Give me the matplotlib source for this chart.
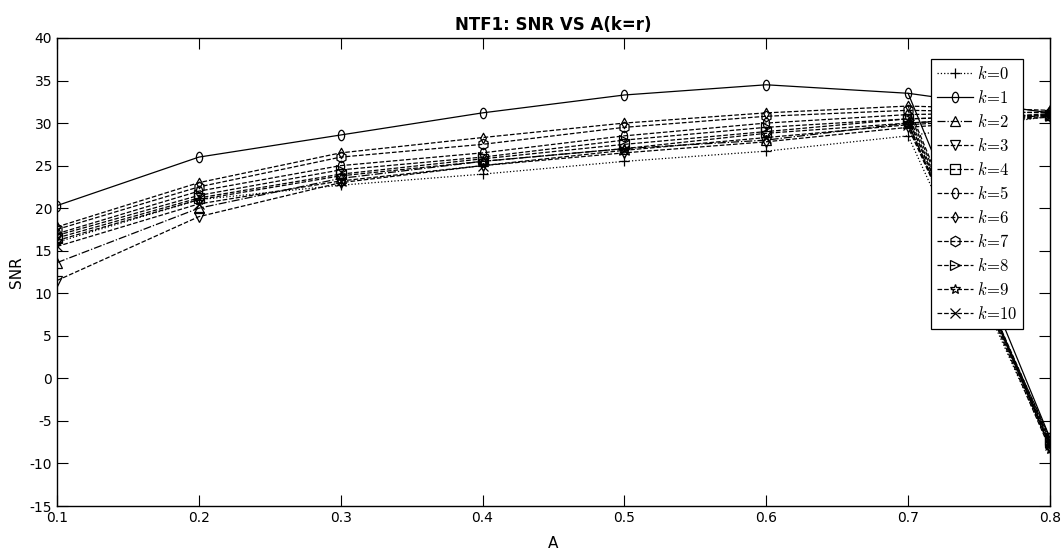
import numpy as np
import matplotlib
matplotlib.use('Agg')
import matplotlib.pyplot as plt
from matplotlib.path import Path
from matplotlib.transforms import Affine2D

A = [0.1, 0.2, 0.3, 0.4, 0.5, 0.6, 0.7, 0.8]

# SNR per k, last value is the drop at A=0.8
snr_k0 = [16.0, 21.0, 22.7, 24.0, 25.5, 26.7, 28.5, -8.0]
snr_k1 = [20.3, 26.0, 28.6, 31.2, 33.3, 34.5, 33.5, -7.0]
snr_k2 = [13.6, 20.0, 23.5, 25.5, 27.0, 28.0, 30.0, -7.5]
snr_k3 = [11.5, 19.0, 23.0, 25.0, 26.5, 27.8, 29.5, -7.0]
snr_k4 = [16.5, 21.2, 24.0, 25.8, 27.5, 29.0, 30.5, -7.5]
snr_k5 = [17.0, 22.0, 25.0, 26.5, 28.5, 30.0, 31.0, -8.0]
snr_k6 = [17.8, 23.0, 26.5, 28.3, 30.0, 31.2, 32.0, -8.2]
snr_k7 = [17.5, 22.5, 26.0, 27.5, 29.5, 30.8, 31.5, -7.8]
snr_k8 = [16.8, 21.5, 24.5, 26.0, 28.0, 29.5, 30.5, -7.2]
snr_k9 = [16.2, 21.0, 23.8, 25.5, 27.0, 28.8, 30.0, -8.3]
snr_k10 = [15.5, 20.5, 23.2, 25.0, 26.8, 28.3, 29.8, -7.8]
# second value recorded at A=0.8
snr_08_high = [30.8, 31.2, 30.9, 30.7, 31.0, 31.3, 31.5, 31.2, 30.9, 31.1, 30.8]

labels = ['$k\\!=\\!%d$' % i for i in range(11)]
series = [snr_k0, snr_k1, snr_k2, snr_k3, snr_k4, snr_k5,
          snr_k6, snr_k7, snr_k8, snr_k9, snr_k10]

# narrow ellipse / diamond, the original looks squeezed sideways
ell = Path.unit_circle().transformed(Affine2D().scale(0.6, 1.0))
thin_d = Path([(0, 1), (0.55, 0), (0, -1), (-0.55, 0), (0, 1)],
              [Path.MOVETO, Path.LINETO, Path.LINETO, Path.LINETO, Path.CLOSEPOLY])
markers = ['+', ell, '^', 'v', 's', ell, thin_d, 'h', '>', '*', 'x']
styles = [':', '-', '-.', '--', '--', '--', '--', '--', '--', '--', '--']

plt.rcParams['mathtext.fontset'] = 'cm'
plt.rcParams['axes.unicode_minus'] = False
fig = plt.figure(figsize=(10.61, 5.56), dpi=100)
ax = fig.add_axes([0.0537, 0.0899, 0.9359, 0.8418])

for i in range(11):
    y = series[i]
    ax.plot(A, y, linestyle=styles[i], marker=markers[i], color='black',
            mfc='none', ms=7.5, lw=0.9, mew=0.9, label=labels[i])
    ax.plot([A[6], A[7]], [y[6], snr_08_high[i]], linestyle=styles[i],
            marker=markers[i], color='black', mfc='none', ms=7.5, lw=0.9,
            mew=0.9, markevery=[1])

ax.set_xlim(0.1, 0.8)
ax.set_ylim(-15, 40)
ax.set_xticks(np.arange(0.1, 0.81, 0.1))
ax.set_yticks(np.arange(-15, 41, 5))
ax.set_xticklabels(['0.1', '0.2', '0.3', '0.4', '0.5', '0.6', '0.7', '0.8'])
ax.tick_params(direction='in', length=8, top=True, right=True, labelsize=10)
for s in ax.spines.values():
    s.set_linewidth(1.0)

ax.set_title('NTF1: SNR VS A(k=r)', fontsize=12, fontweight='bold', pad=6)
ax.set_xlabel('A', fontsize=11, labelpad=8)
ax.set_ylabel('SNR', fontsize=11, labelpad=4)

leg = ax.legend(loc='upper right', bbox_to_anchor=(0.973, 0.955), fontsize=12,
                handlelength=2.2, handletextpad=0.2, labelspacing=0.36,
                borderpad=0.35, borderaxespad=0, fancybox=False, framealpha=1)
leg.get_frame().set_edgecolor('black')
leg.get_frame().set_linewidth(0.9)

fig.savefig('out.png', dpi=100)
